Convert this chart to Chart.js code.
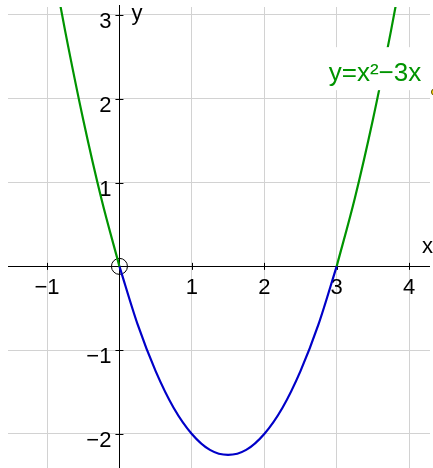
<!DOCTYPE html>
<html>
<head>
<meta charset="utf-8">
<script src="https://cdn.jsdelivr.net/npm/chart.js@4/dist/chart.umd.min.js"></script>
<style>
html,body{margin:0;padding:0;background:#fff;}
canvas{display:block;}
</style>
</head>
<body>
<canvas id="c" width="433" height="468"></canvas>
<script>
// Points (curve y = x² − 3x)
const leftX   = [-0.85, -0.75, -0.5, -0.25, 0];
const leftY   = [3.27, 2.81, 1.75, 0.81, 0];
const midX    = [0, 0.25, 0.5, 0.75, 1, 1.25, 1.5, 1.75, 2, 2.25, 2.5, 2.75, 3];
const midY    = [0, -0.69, -1.25, -1.69, -2, -2.19, -2.25, -2.19, -2, -1.69, -1.25, -0.69, 0];
const rightX  = [3, 3.25, 3.5, 3.75, 3.85];
const rightY  = [0, 0.81, 1.75, 2.81, 3.27];
const xTicks  = [-1, 1, 2, 3, 4];
const yTicks  = [-2, -1, 1, 2, 3];
const xTickLabels = ['\u22121', '1', '2', '3', '4'];
const yTickLabels = ['\u22122', '\u22121', '1', '2', '3'];
const curveLabel = 'y=x\u00b2\u22123x';
const labelAt = [2.89, 2.21];
const markerAt = [4.35, 2.08];

const GREEN = '#009400';
const BLUE = '#0000c8';
const FONT = '22px "Liberation Sans", Arial, sans-serif';

function pts(xs, ys){ return xs.map((x,i)=>({x:x, y:ys[i]})); }

const axesPlugin = {
  id: 'axes',
  beforeDatasetsDraw(chart){
    const ctx = chart.ctx, xs = chart.scales.x, ys = chart.scales.y, a = chart.chartArea;
    const ox = xs.getPixelForValue(0), oy = ys.getPixelForValue(0);
    ctx.save();
    ctx.strokeStyle = '#000'; ctx.lineWidth = 1;
    ctx.beginPath();
    ctx.moveTo(a.left, Math.round(oy)+0.5); ctx.lineTo(a.right, Math.round(oy)+0.5);
    ctx.moveTo(Math.round(ox)+0.5, a.top-2); ctx.lineTo(Math.round(ox)+0.5, a.bottom);
    xTicks.forEach(v=>{ const p = Math.round(xs.getPixelForValue(v))+0.5; ctx.moveTo(p, oy-3.5); ctx.lineTo(p, oy+3.5); });
    yTicks.forEach(v=>{ const p = Math.round(ys.getPixelForValue(v))+0.5; ctx.moveTo(ox-4, p); ctx.lineTo(ox+4, p); });
    ctx.stroke();
    ctx.fillStyle = '#000'; ctx.font = FONT;
    ctx.textBaseline = 'alphabetic';
    ctx.textAlign = 'center';
    xTicks.forEach((v,i)=>{ ctx.fillText(xTickLabels[i], xs.getPixelForValue(v), oy + 28); });
    ctx.textAlign = 'right';
    yTicks.forEach((v,i)=>{ ctx.fillText(yTickLabels[i], ox - 8, ys.getPixelForValue(v) + 13); });
    ctx.textAlign = 'left';
    ctx.fillText('x', a.right - 8, oy - 13);
    ctx.fillText('y', ox + 12, a.top + 13);
    ctx.restore();
  },
  afterDatasetsDraw(chart){
    const ctx = chart.ctx, xs = chart.scales.x, ys = chart.scales.y;
    const px = xs.getPixelForValue(labelAt[0]), py = ys.getPixelForValue(labelAt[1]);
    ctx.save();
    ctx.font = '26px "Liberation Sans", Arial, sans-serif';
    const w = ctx.measureText(curveLabel).width;
    ctx.fillStyle = '#fff';
    ctx.fillRect(px - 4, py - 34, w + 8, 43);
    ctx.fillStyle = GREEN;
    ctx.textAlign = 'left'; ctx.textBaseline = 'alphabetic';
    ctx.fillText(curveLabel, px, py);
    ctx.restore();
  }
};

new Chart(document.getElementById('c'), {
  type: 'scatter',
  data: {
    datasets: [
      { data: pts(leftX, leftY), showLine: true, borderColor: GREEN, borderWidth: 2.2, pointRadius: 0, cubicInterpolationMode: 'monotone' },
      { data: pts(midX, midY), showLine: true, borderColor: BLUE, borderWidth: 2.2, pointRadius: 0, cubicInterpolationMode: 'monotone' },
      { data: pts(rightX, rightY), showLine: true, borderColor: GREEN, borderWidth: 2.2, pointRadius: 0, cubicInterpolationMode: 'monotone' },
      { data: [{x:0, y:0}], pointRadius: 8, pointBorderColor: '#000', pointBackgroundColor: 'rgba(0,0,0,0)', pointBorderWidth: 1 },
      { data: [{x:markerAt[0], y:markerAt[1]}], pointRadius: 3, pointBorderColor: '#665500', pointBackgroundColor: '#f0d000', pointBorderWidth: 1, clip: false }
    ]
  },
  options: {
    responsive: false,
    animation: false,
    events: [],
    layout: { autoPadding: false, padding: { left: 8, top: 7, right: 3, bottom: 0 } },
    plugins: { legend: { display: false }, tooltip: { enabled: false } },
    scales: {
      x: { type: 'linear', min: -1.539, max: 4.289,
           ticks: { display: false, stepSize: 1, includeBounds: false, padding: 0 },
           grid: { color: '#d2d2d2', lineWidth: 1, drawTicks: false, tickLength: 0 },
           border: { display: false },
           afterFit(s){ s.height = 0; s.paddingLeft = 0; s.paddingRight = 0; } },
      y: { type: 'linear', min: -2.406, max: 3.095,
           ticks: { display: false, stepSize: 1, includeBounds: false, padding: 0 },
           grid: { color: '#d2d2d2', lineWidth: 1, drawTicks: false, tickLength: 0 },
           border: { display: false },
           afterFit(s){ s.width = 0; s.paddingTop = 0; s.paddingBottom = 0; } }
    }
  },
  plugins: [axesPlugin]
});
</script>
</body>
</html>
